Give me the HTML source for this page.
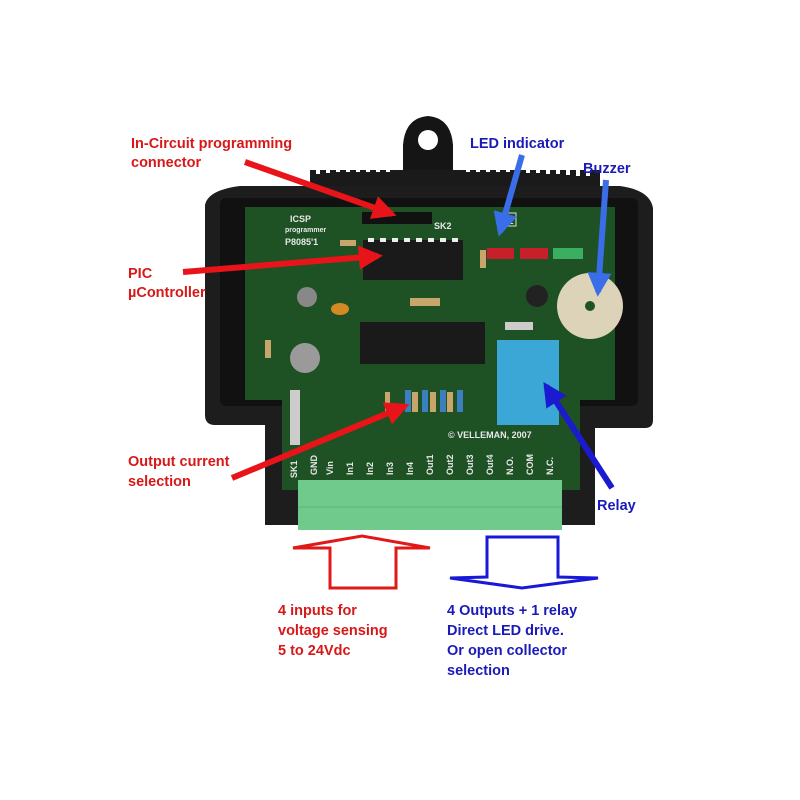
<!DOCTYPE html>
<html><head><meta charset="utf-8"><style>
html,body{margin:0;padding:0;background:#fff;width:800px;height:800px;overflow:hidden}
svg{display:block}
text{font-family:"Liberation Sans",Arial,sans-serif;font-weight:bold}
</style></head><body>
<svg width="800" height="800" viewBox="0 0 800 800" xmlns="http://www.w3.org/2000/svg">
<defs>
<marker id="ar" viewBox="0 0 10 10" refX="8" refY="5" markerWidth="4" markerHeight="4" orient="auto"><path d="M0,0L10,5L0,10z" fill="#e8141a"/></marker>
<marker id="ab" viewBox="0 0 10 10" refX="8" refY="5" markerWidth="4" markerHeight="4" orient="auto"><path d="M0,0L10,5L0,10z" fill="#3a6ee8"/></marker>
<marker id="ad" viewBox="0 0 10 10" refX="8" refY="5" markerWidth="4" markerHeight="4" orient="auto"><path d="M0,0L10,5L0,10z" fill="#1a1ad0"/></marker>
</defs>
<!-- mounting tab -->
<path d="M403,172 L403,145 Q405,118 428,116 Q451,118 453,145 L453,172 Z" fill="#151515"/>
<circle cx="428" cy="140" r="10" fill="#fff"/>
<!-- teeth -->
<rect x="310" y="170" width="290" height="18" fill="#1a1a1a"/>
<g fill="#fff">
<rect x="316" y="164" width="4" height="10"/><rect x="326" y="164" width="4" height="9"/><rect x="336" y="164" width="4" height="8"/><rect x="346" y="164" width="4" height="8"/><rect x="356" y="164" width="4" height="8"/><rect x="366" y="164" width="4" height="8"/><rect x="376" y="164" width="4" height="8"/><rect x="386" y="164" width="4" height="8"/>
<rect x="466" y="164" width="4" height="8"/><rect x="476" y="164" width="4" height="8"/><rect x="486" y="164" width="4" height="8"/><rect x="496" y="164" width="4" height="8"/><rect x="506" y="164" width="4" height="8"/><rect x="516" y="164" width="4" height="8"/><rect x="526" y="164" width="4" height="9"/><rect x="536" y="164" width="4" height="9"/><rect x="546" y="164" width="4" height="10"/><rect x="556" y="164" width="4" height="10"/><rect x="566" y="164" width="4" height="11"/><rect x="576" y="164" width="4" height="12"/><rect x="586" y="164" width="4" height="12"/>
</g>
<!-- enclosure -->
<path d="M205,205 Q208,190 240,186 L620,186 Q650,190 653,208 L653,420 Q653,428 645,428 L595,428 L595,525 L265,525 L265,425 L215,425 Q205,425 205,415 Z" fill="#1d1d1d"/>
<rect x="220" y="198" width="418" height="208" fill="#111" rx="6"/>
<!-- PCB -->
<path d="M245,207 L615,207 L615,400 L580,400 L580,490 L282,490 L282,400 L245,400 Z" fill="#1e5224"/>
<!-- ICSP header -->
<rect x="362" y="212" width="70" height="12" fill="#111"/>
<text x="290" y="222" font-size="9" fill="#e8e8e8">ICSP</text>
<text x="285" y="232" font-size="7" fill="#e8e8e8">programmer</text>
<text x="285" y="245" font-size="9" fill="#e8e8e8">P8085'1</text>
<text x="434" y="229" font-size="9" fill="#e8e8e8">SK2</text>
<rect x="500" y="213" width="16" height="13" fill="none" stroke="#ddd" stroke-width="1"/>
<text x="501" y="224" font-size="9" fill="#ddd">CE</text>
<!-- IC1 -->
<rect x="363" y="240" width="100" height="40" fill="#1a1a1a"/>
<g fill="#eee"><rect x="368" y="238" width="6" height="4"/><rect x="380" y="238" width="6" height="4"/><rect x="392" y="238" width="6" height="4"/><rect x="404" y="238" width="6" height="4"/><rect x="416" y="238" width="6" height="4"/><rect x="428" y="238" width="6" height="4"/><rect x="440" y="238" width="6" height="4"/><rect x="452" y="238" width="6" height="4"/></g>
<!-- IC2 -->
<rect x="360" y="322" width="125" height="42" fill="#1a1a1a"/>
<!-- LEDs -->
<rect x="487" y="248" width="27" height="11" fill="#c8202a"/>
<rect x="520" y="248" width="28" height="11" fill="#c8202a"/>
<rect x="553" y="248" width="30" height="11" fill="#3cae62"/>
<circle cx="537" cy="296" r="11" fill="#222"/>
<circle cx="590" cy="306" r="33" fill="#dcd3b8"/>
<circle cx="590" cy="306" r="5" fill="#1e5224"/>
<rect x="497" y="340" width="62" height="85" fill="#3aa7d6"/>
<circle cx="305" cy="358" r="15" fill="#9a9a9a"/>
<circle cx="307" cy="297" r="10" fill="#888"/>
<ellipse cx="340" cy="309" rx="9" ry="6" fill="#d48a22"/>
<g fill="#3b7fc0"><rect x="405" y="390" width="6" height="22"/><rect x="422" y="390" width="6" height="22"/><rect x="440" y="390" width="6" height="22"/><rect x="457" y="390" width="6" height="22"/></g>
<g fill="#c8a56a"><rect x="412" y="392" width="6" height="20"/><rect x="430" y="392" width="6" height="20"/><rect x="447" y="392" width="6" height="20"/><rect x="385" y="392" width="5" height="20"/><rect x="340" y="240" width="16" height="6"/><rect x="410" y="298" width="30" height="8"/><rect x="265" y="340" width="6" height="18"/><rect x="480" y="250" width="6" height="18"/></g>
<rect x="505" y="322" width="28" height="8" fill="#ccc"/>
<text x="448" y="438" font-size="9" fill="#e8e8e8">© VELLEMAN, 2007</text>
<rect x="290" y="390" width="10" height="55" fill="#ccc"/>
<g font-size="9" fill="#e8e8e8" font-weight="normal">
<text transform="translate(317,475) rotate(-90)">GND</text>
<text transform="translate(333,475) rotate(-90)">Vin</text>
<text transform="translate(353,475) rotate(-90)">In1</text>
<text transform="translate(373,475) rotate(-90)">In2</text>
<text transform="translate(393,475) rotate(-90)">In3</text>
<text transform="translate(413,475) rotate(-90)">In4</text>
<text transform="translate(433,475) rotate(-90)">Out1</text>
<text transform="translate(453,475) rotate(-90)">Out2</text>
<text transform="translate(473,475) rotate(-90)">Out3</text>
<text transform="translate(493,475) rotate(-90)">Out4</text>
<text transform="translate(513,475) rotate(-90)">N.O.</text>
<text transform="translate(533,475) rotate(-90)">COM</text>
<text transform="translate(553,475) rotate(-90)">N.C.</text>
<text transform="translate(297,478) rotate(-90)">SK1</text>
</g>
<rect x="298" y="480" width="264" height="50" fill="#6fca8c"/>
<line x1="298" y1="507" x2="562" y2="507" stroke="#5bb577" stroke-width="1"/>
<path d="M330,588 L330,548 L293,548 L362,536 L430,548 L396,548 L396,588 Z" fill="none" stroke="#e01818" stroke-width="3"/>
<path d="M487,537 L558,537 L558,577 L598,578 L522,588 L450,578 L487,577 Z" fill="none" stroke="#1818d8" stroke-width="3"/>
<g font-size="14.5" fill="#d81818">
<text x="131" y="148">In-Circuit programming</text>
<text x="131" y="167">connector</text>
<text x="128" y="278">PIC</text>
<text x="128" y="297">µController</text>
<text x="128" y="466">Output current</text>
<text x="128" y="486">selection</text>
<text x="278" y="615">4 inputs for</text>
<text x="278" y="635">voltage sensing</text>
<text x="278" y="655">5 to 24Vdc</text>
</g>
<g font-size="14.5" fill="#1a1ab8">
<text x="470" y="148">LED indicator</text>
<text x="583" y="173">Buzzer</text>
<text x="597" y="510">Relay</text>
<text x="447" y="615">4 Outputs + 1 relay</text>
<text x="447" y="635">Direct LED drive.</text>
<text x="447" y="655">Or open  collector</text>
<text x="447" y="675">selection</text>
</g>
<g stroke-width="6" fill="none">
<line x1="245" y1="162" x2="392" y2="214" stroke="#e8141a" marker-end="url(#ar)"/>
<line x1="183" y1="272" x2="378" y2="256" stroke="#e8141a" marker-end="url(#ar)"/>
<line x1="232" y1="478" x2="405" y2="406" stroke="#e8141a" marker-end="url(#ar)"/>
<line x1="522" y1="155" x2="500" y2="232" stroke="#3a6ee8" marker-end="url(#ab)"/>
<line x1="606" y1="180" x2="598" y2="292" stroke="#3a6ee8" marker-end="url(#ab)"/>
<line x1="612" y1="488" x2="546" y2="386" stroke="#1a1ad0" marker-end="url(#ad)"/>
</g>
</svg>
</body></html>
